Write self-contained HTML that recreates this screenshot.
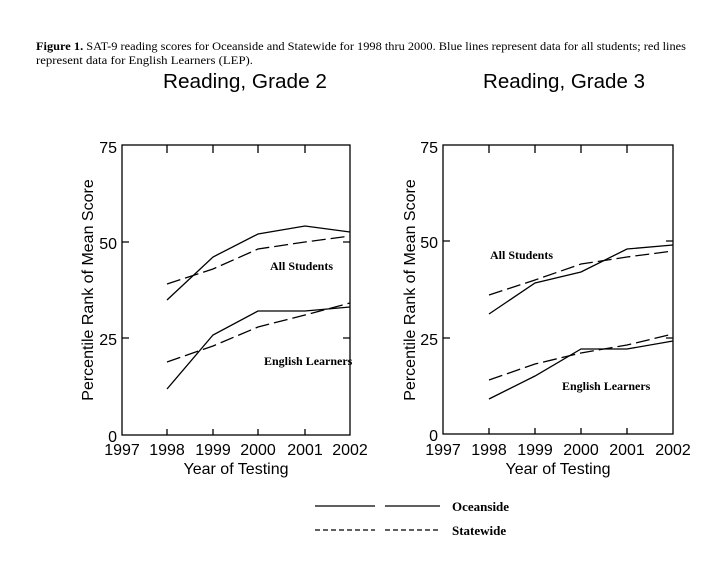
<!DOCTYPE html>
<html><head><style>body{margin:0;background:#fff}svg{display:block}</style></head>
<body>
<svg width="719" height="581" viewBox="0 0 719 581" xmlns="http://www.w3.org/2000/svg">
<g font-family="Liberation Serif, serif" font-size="11.5" fill="#000">
<text x="36" y="50" textLength="650" lengthAdjust="spacingAndGlyphs"><tspan font-weight="bold">Figure 1.</tspan> SAT-9 reading scores for Oceanside and Statewide for 1998 thru 2000. Blue lines represent data for all students; red lines</text>
<text x="36" y="64" textLength="217" lengthAdjust="spacingAndGlyphs">represent data for English Learners (LEP).</text>
</g>
<g font-family="Liberation Sans, sans-serif" font-size="20" fill="#000">
<text x="245" y="88" text-anchor="middle" textLength="164" lengthAdjust="spacingAndGlyphs">Reading, Grade 2</text>
<text x="564" y="88" text-anchor="middle" textLength="162" lengthAdjust="spacingAndGlyphs">Reading, Grade 3</text>
</g>

<!-- Left chart -->
<g stroke="#000" fill="none" stroke-width="1.3">
<rect x="122" y="145" width="228" height="290"/>
<path d="M167 145v8M213 145v8M258 145v8M305 145v8M167 435v-6M213 435v-6M258 435v-6M305 435v-6M122 242h7M122 338h7M350 242h-7M350 338h-7"/>
<polyline points="167,300 213,257 258,234 305,226 350,232"/>
<polyline points="167,389 213,335 258,311 305,311 350,307"/>
<polyline stroke-dasharray="14,5" points="167,284 213,269 258,249 305,242 350,236"/>
<polyline stroke-dasharray="14,5" points="167,362 213,346 258,327 305,315 350,303"/>
</g>
<g font-family="Liberation Sans, sans-serif" font-size="16" fill="#000">
<text x="117" y="153" text-anchor="end">75</text>
<text x="117" y="249" text-anchor="end">50</text>
<text x="117" y="345" text-anchor="end">25</text>
<text x="117" y="442" text-anchor="end">0</text>
<text x="122" y="455" text-anchor="middle">1997</text>
<text x="167" y="455" text-anchor="middle">1998</text>
<text x="213" y="455" text-anchor="middle">1999</text>
<text x="258" y="455" text-anchor="middle">2000</text>
<text x="305" y="455" text-anchor="middle">2001</text>
<text x="350" y="455" text-anchor="middle">2002</text>
<text x="236" y="474" text-anchor="middle">Year of Testing</text>
<text transform="translate(93,290) rotate(-90)" text-anchor="middle">Percentile Rank of Mean Score</text>
</g>
<g font-family="Liberation Serif, serif" font-size="12" font-weight="bold" fill="#000">
<text x="270" y="270">All Students</text>
<text x="264" y="365">English Learners</text>
</g>

<!-- Right chart -->
<g stroke="#000" fill="none" stroke-width="1.3">
<rect x="443" y="145" width="230" height="289"/>
<path d="M489 145v8M535 145v8M581 145v8M627 145v8M489 434v-6M535 434v-6M581 434v-6M627 434v-6M443 241h7M443 338h7M673 241h-7M673 338h-7"/>
<polyline points="489,314 535,283 581,272 627,249 673,245"/>
<polyline points="489,399 535,376 581,349 627,349 673,341"/>
<polyline stroke-dasharray="14,5" points="489,295 535,280 581,264 627,257 673,251"/>
<polyline stroke-dasharray="14,5" points="489,380 535,364 581,353 627,345 673,334"/>
</g>
<g font-family="Liberation Sans, sans-serif" font-size="16" fill="#000">
<text x="438" y="153" text-anchor="end">75</text>
<text x="438" y="248" text-anchor="end">50</text>
<text x="438" y="345" text-anchor="end">25</text>
<text x="438" y="441" text-anchor="end">0</text>
<text x="443" y="455" text-anchor="middle">1997</text>
<text x="489" y="455" text-anchor="middle">1998</text>
<text x="535" y="455" text-anchor="middle">1999</text>
<text x="581" y="455" text-anchor="middle">2000</text>
<text x="627" y="455" text-anchor="middle">2001</text>
<text x="673" y="455" text-anchor="middle">2002</text>
<text x="558" y="474" text-anchor="middle">Year of Testing</text>
<text transform="translate(415,290) rotate(-90)" text-anchor="middle">Percentile Rank of Mean Score</text>
</g>
<g font-family="Liberation Serif, serif" font-size="12" font-weight="bold" fill="#000">
<text x="490" y="259">All Students</text>
<text x="562" y="390">English Learners</text>
</g>

<!-- Legend -->
<g stroke="#000" stroke-width="1.2" fill="none">
<path d="M315 506h60M385 506h55"/>
<path d="M315 530h60M385 530h55" stroke-dasharray="5,3"/>
</g>
<g font-family="Liberation Serif, serif" font-size="13" font-weight="bold" fill="#000">
<text x="452" y="511">Oceanside</text>
<text x="452" y="535">Statewide</text>
</g>
</svg>
</body></html>
